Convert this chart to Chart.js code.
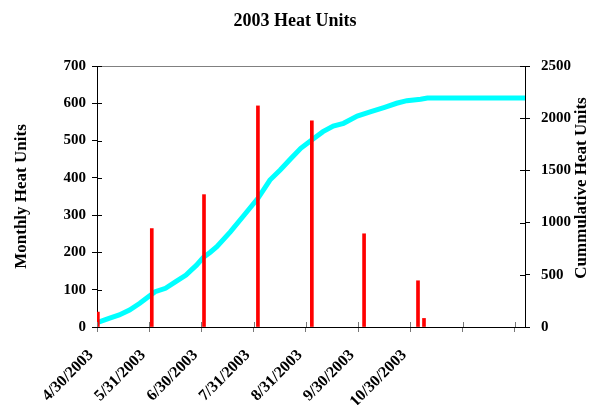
<!DOCTYPE html>
<html>
<head>
<meta charset="utf-8">
<title>2003 Heat Units</title>
<script src="https://cdn.jsdelivr.net/npm/chart.js@4.4.1/dist/chart.umd.min.js"></script>
<style>
  html, body { margin: 0; padding: 0; background: #fff; }
</style>
</head>
<body>
<canvas id="heat" width="590" height="405"></canvas>
<script>
// x is counted in days from 4/30/2003
const tickDays = [0, 30.5, 61, 91.5, 122, 152.5, 183, 213.5, 244];
const tickLabels = ['4/30/2003', '5/31/2003', '6/30/2003', '7/31/2003', '8/31/2003', '9/30/2003', '10/30/2003', '', ''];

// monthly heat units (red bars)
const monthDays = [0.5, 32, 62.5, 94, 125.5, 156, 187.5, 191];
const monthHeat = [40, 264, 355, 593, 553, 250, 124, 23];

// cummulative heat units (cyan line)
const cumDays = [0, 7, 13, 19, 25, 30, 34, 40, 46, 52, 55, 58, 62, 66, 70, 78, 86, 94, 101, 107, 113, 119, 126, 132, 138, 144, 152, 160, 168, 175, 181, 189, 193, 250];
const cumHeat = [41, 83, 115, 163, 227, 290, 338, 371, 434, 498, 545, 590, 665, 714, 769, 913, 1073, 1233, 1408, 1504, 1609, 1712, 1798, 1871, 1925, 1951, 2021, 2062, 2104, 2143, 2168, 2181, 2193, 2193];

const serif = 'Liberation Serif';
const tickFont = { family: serif, size: 15, weight: 'bold' };

const frame = {
  id: 'frame',
  afterDraw(chart) {
    const { ctx, chartArea: a, scales } = chart;
    ctx.save();
    ctx.lineWidth = 1;
    // grey top edge of the plot
    ctx.strokeStyle = '#808080';
    ctx.beginPath();
    ctx.moveTo(a.left, Math.round(a.top) + 0.5);
    ctx.lineTo(a.right, Math.round(a.top) + 0.5);
    ctx.stroke();
    // inner half of the cross tick marks
    ctx.strokeStyle = '#000';
    ctx.beginPath();
    scales.y.ticks.forEach(t => {
      const py = Math.round(scales.y.getPixelForValue(t.value)) + 0.5;
      ctx.moveTo(a.left, py);
      ctx.lineTo(a.left + 5, py);
    });
    scales.y1.ticks.forEach(t => {
      const py = Math.round(scales.y1.getPixelForValue(t.value)) + 0.5;
      ctx.moveTo(a.right - 5, py);
      ctx.lineTo(a.right, py);
    });
    ctx.stroke();
    ctx.strokeStyle = '#777';
    ctx.beginPath();
    scales.x.ticks.forEach(t => {
      const px = Math.round(scales.x.getPixelForValue(t.value)) + 0.5;
      ctx.moveTo(px, a.bottom - 5);
      ctx.lineTo(px, a.bottom);
    });
    ctx.stroke();
    // right axis title reads bottom to top
    ctx.fillStyle = '#000';
    ctx.font = 'bold 17px "' + serif + '"';
    ctx.textAlign = 'center';
    ctx.textBaseline = 'middle';
    ctx.translate(582, 188);
    ctx.rotate(-Math.PI / 2);
    ctx.fillText('Cummulative Heat Units', 0, 0);
    ctx.restore();
  }
};

new Chart(document.getElementById('heat').getContext('2d'), {
  type: 'bar',
  data: {
    datasets: [{
      label: 'Monthly Heat Units',
      data: monthDays.map((d, i) => ({ x: d, y: monthHeat[i] })),
      backgroundColor: '#FF0000',
      barThickness: 3,
      yAxisID: 'y',
      order: 0
    }, {
      type: 'line',
      label: 'Cummulative Heat Units',
      data: cumDays.map((d, i) => ({ x: d, y: cumHeat[i] })),
      borderColor: '#00FFFF',
      backgroundColor: '#00FFFF',
      borderWidth: 5,
      pointRadius: 0,
      tension: 0,
      yAxisID: 'y1',
      order: 1
    }]
  },
  options: {
    responsive: false,
    animation: false,
    layout: { padding: 0 },
    plugins: {
      legend: { display: false },
      title: {
        display: true,
        text: '2003 Heat Units',
        color: '#000',
        font: { family: serif, size: 18, weight: 'bold' },
        padding: { top: 11, bottom: 33.4 }
      }
    },
    scales: {
      x: {
        type: 'linear',
        min: 0,
        max: 250,
        offset: false,
        afterBuildTicks: s => { s.ticks = tickDays.map(v => ({ value: v })); },
        afterFit: s => { s.height = 78; },
        ticks: {
          autoSkip: false,
          minRotation: 45,
          maxRotation: 45,
          color: '#000',
          font: { family: serif, size: 16, weight: 'bold' },
          padding: 14,
          labelOffset: -6,
          callback: (v, i) => tickLabels[i]
        },
        grid: { drawOnChartArea: false, offset: false, tickLength: 5, color: '#777' },
        border: { color: '#000', width: 1 }
      },
      y: {
        position: 'left',
        min: 0,
        max: 700,
        afterFit: s => { s.width = 97; },
        ticks: { stepSize: 100, color: '#000', font: tickFont, padding: 6 },
        grid: { drawOnChartArea: false, tickLength: 5, color: '#000' },
        border: { color: '#000', width: 1 },
        title: {
          display: true,
          text: 'Monthly Heat Units',
          color: '#000',
          font: { family: serif, size: 17, weight: 'bold' },
          padding: { top: 11, bottom: 0 }
        }
      },
      y1: {
        position: 'right',
        min: 0,
        max: 2500,
        afterFit: s => { s.width = 65; },
        ticks: { stepSize: 500, color: '#000', font: tickFont, padding: 11, callback: v => String(v) },
        grid: { drawOnChartArea: false, tickLength: 5, color: '#000' },
        border: { color: '#000', width: 1 }
      }
    }
  },
  plugins: [frame]
});
</script>
</body>
</html>
